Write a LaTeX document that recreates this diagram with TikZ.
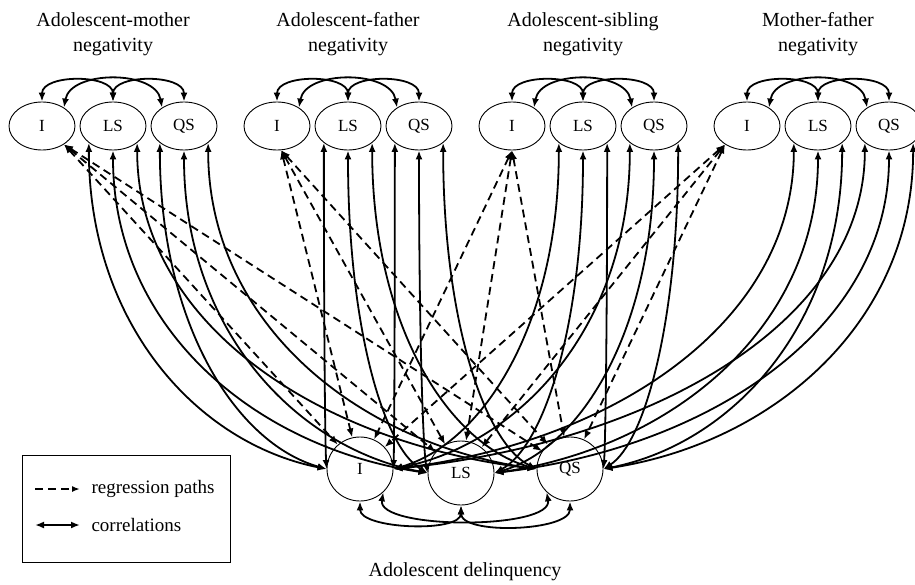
\documentclass[tikz,border=0pt]{standalone}
\usepackage{fontspec}
\setmainfont{Liberation Serif}
\usetikzlibrary{shapes.geometric, arrows.meta, positioning, calc}

\tikzset{
  lat/.style={ellipse, draw, line width=0.9pt, minimum width=66pt, minimum height=48pt, inner sep=0pt, font=\fontsize{17}{17}\selectfont},
  dlat/.style={lat, minimum height=64pt},
  corr/.style={{Latex[length=9pt,width=7pt]}-{Latex[length=9pt,width=7pt]}, line width=1.8pt},
  reg/.style={{Latex[length=9pt,width=7pt]}-{Latex[length=9pt,width=7pt]}, line width=1.8pt, dash pattern=on 8pt off 5pt},
  title/.style={align=center, font=\fontsize{20}{25}\selectfont},
  sweep/.style={to path={let \p1=(\tikztostart), \p3=($(\tikztostart)!0.55!(\tikztotarget)$), \p4=($(\tikztostart)!0.45!(\tikztotarget)$), \p5=($(\tikztostart)!0.92!(\tikztotarget)$) in .. controls (\x1,\y3) and (\x4,\y5) .. (\tikztotarget)}}
}

\begin{document}
\begin{tikzpicture}[x=1pt, y=1pt, node distance=71pt]
  \useasboundingbox (0,0) rectangle (915,-584);
  \clip (0,0) rectangle (915,-584);

  % negativity processes
  \foreach \k/\x/\who in {1/42/Adolescent-mother, 2/277/Adolescent-father, 3/512/Adolescent-sibling, 4/747/Mother-father}{
    \node[lat] (I\k) at (\x,-126) {I};
    \node[lat] (LS\k) [right of=I\k] {LS};
    \node[lat] (QS\k) [right of=LS\k] {QS};
    \node[title] (T\k) at ($(LS\k)+(0,91.5)$) {\who\\negativity};
    \draw[corr] (I\k.north) to[out=90, in=90] (LS\k.north);
    \draw[corr] (LS\k.north) to[out=90, in=90] (QS\k.north);
    \draw[corr] (I\k.40) to[out=80, in=100] (QS\k.140);
  }

  % delinquency
  \node[dlat] (dI) at (360,-469) {I};
  \node[dlat] (dLS) at (461,-473) {LS};
  \node[dlat] (dQS) at (570,-469) {QS};
  \node[title] (dT) at (465,-572) {Adolescent delinquency};
  \draw[corr] (dI.south) to[out=-90, in=-90, looseness=0.7] (dLS.south);
  \draw[corr] (dLS.south) to[out=-90, in=-90, looseness=0.7] (dQS.south);
  \draw[corr] (dI.-45) to[out=-100, in=-80, looseness=0.6] (dQS.-135);

  % correlations
  \foreach \k/\X/\a/\b in {1/LS/west/west, 1/QS/west/west, 2/LS/west/west, 2/QS/east/west, 3/LS/east/east, 3/QS/east/east, 4/LS/east/east, 4/QS/east/east}{
    \draw[corr] (\X\k.-145) to[sweep] (dI.\a);
    \draw[corr] (\X\k.south) to[sweep] (dLS.\b);
    \draw[corr] (\X\k.-35) to[sweep] (dQS.\b);
  }

  % regression paths
  \foreach \k/\a in {1/-40, 2/-80, 3/-90, 4/-140}{
    \draw[reg] (I\k.\a) -- (dI);
    \draw[reg] (I\k.\a) -- (dLS);
    \draw[reg] (I\k.\a) -- (dQS);
  }

  % legend
  \node[draw, line width=0.9pt, minimum width=208pt, minimum height=107pt] (key) at (126,-508.5) {};
  \node[anchor=west, font=\fontsize{19}{19}\selectfont] (kreg) at (88,-489) {regression paths};
  \node[anchor=west, font=\fontsize{19}{19}\selectfont] (kcor) at (88,-525) {correlations};
  \draw[-{Latex[length=8pt,width=6pt]}, line width=1.8pt, dash pattern=on 8pt off 5pt] ([xshift=-53pt]kreg.west) -- ([xshift=-8pt]kreg.west);
  \draw[corr] ([xshift=-53pt]kcor.west) -- ([xshift=-8pt]kcor.west);
\end{tikzpicture}
\end{document}
